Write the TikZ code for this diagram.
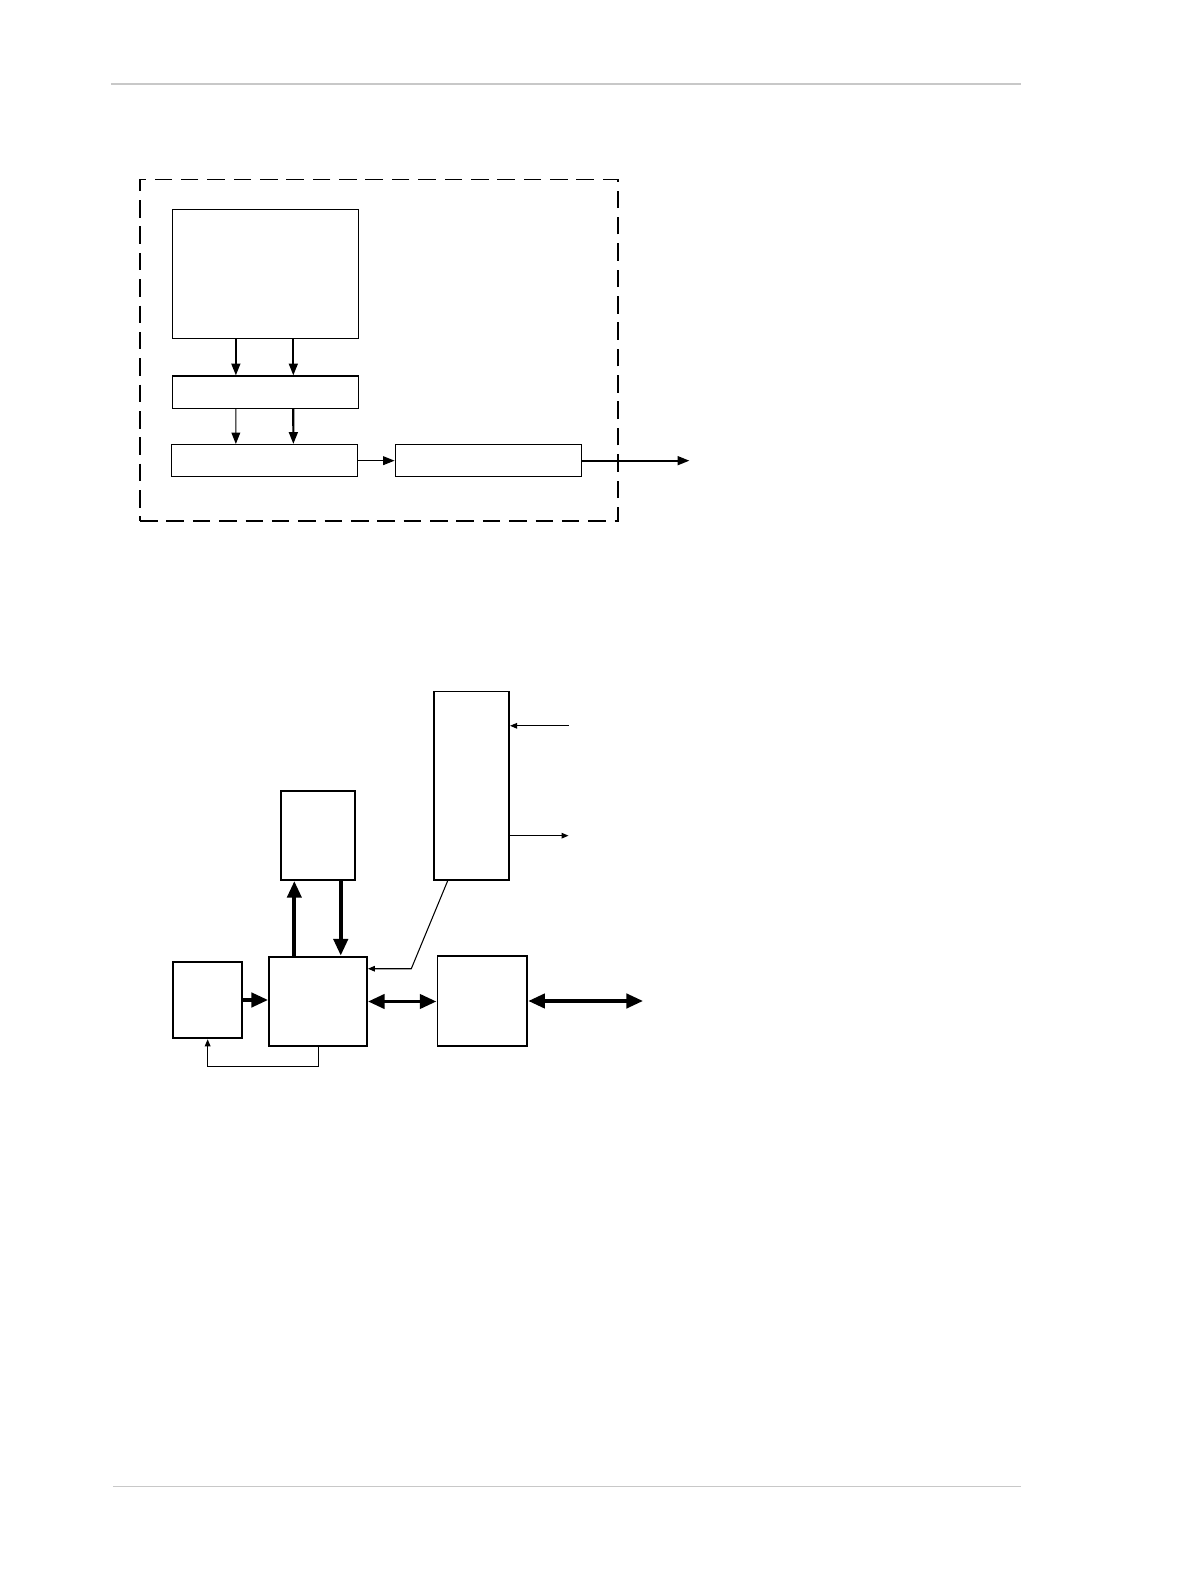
\documentclass[tikz,border=0pt]{standalone}
\usetikzlibrary{arrows.meta}
\definecolor{rule}{RGB}{200,200,200}

\begin{document}
\begin{tikzpicture}[x=0.02016cm, y=-0.02016cm,
    blk/.style={draw, line width=0.6pt, inner sep=0pt},
    blkb/.style={draw, line width=1.1pt, inner sep=0pt},
    fine/.style={line width=0.6pt, ->, >={Triangle[length=6.5pt, width=5pt]}},
    bold/.style={line width=1.25pt, ->, >={Triangle[length=6.8pt, width=5pt]}},
    small/.style={line width=0.6pt, ->, >={Triangle[length=4pt, width=3.2pt]}},
    heavy/.style={line width=2.2pt, >={Triangle[length=9.5pt, width=8pt]}}]
  \useasboundingbox (0,0) rectangle (1180.5,1567.4);

  % Page rules
  \draw[rule, line width=1.3pt] (110,83) -- (1013,83);
  \draw[rule, line width=0.7pt] (112,1475) -- (1013,1475);

  % Upper diagram
  \node[draw, line width=0.8pt, dash pattern=on 10pt off 5pt, minimum width=9.556cm, minimum height=6.834cm] (frame) at (376,347.5) {};
  \node[blk, minimum width=3.73cm, minimum height=2.58cm] (src) at (263.5,272) {};
  \node[blk, minimum width=3.73cm, minimum height=0.645cm] (buf) at (263.5,389) {};
  \node[blk, minimum width=3.73cm, minimum height=0.645cm] (enc) at (262.5,457) {};
  \node[blk, minimum width=3.73cm, minimum height=0.645cm] (drv) at (484.5,457) {};
  \coordinate (out) at (684,457);

  \draw[bold] ([xshift=-0.595cm]src.south) -- ([xshift=-0.595cm]buf.north);
  \draw[bold] ([xshift=0.554cm]src.south) -- ([xshift=0.554cm]buf.north);
  \draw[fine] ([xshift=-0.595cm]buf.south) -- ([xshift=-0.575cm]enc.north);
  \draw[bold] ([xshift=0.554cm]buf.south) -- ([xshift=0.575cm]enc.north);
  \draw[fine] (enc) -- (drv);
  \draw[bold] (drv.east) -- (out);

  % Lower diagram
  \node[blkb, minimum width=1.492cm, minimum height=3.77cm] (mux) at (468,779.5) {};
  \node[blkb, minimum width=1.472cm, minimum height=1.774cm] (mem) at (315.5,829) {};
  \node[blkb, minimum width=1.371cm, minimum height=1.532cm] (clk) at (206,992) {};
  \node[blkb, minimum width=1.956cm, minimum height=1.794cm] (cpu) at (315.5,993.5) {};
  \node[blkb, minimum width=1.794cm, minimum height=1.814cm] (phy) at (478.5,993) {};
  \coordinate (in1) at (564,720);
  \coordinate (out1) at (564,829);
  \coordinate (bus) at (638,993);
  \coordinate (kink) at (408,961);
  \coordinate (loop) at (315.5,1058);

  \draw[small] (in1) -- (in1 -| mux.east);
  \draw[small] (mux.east |- out1) -- (out1);
  \draw[small] ([xshift=0.282cm]mux.south west) -- (kink) -- (kink -| cpu.east);
  \draw[heavy, ->] ([xshift=-0.474cm]cpu.north) -- ([xshift=-0.474cm]mem.south);
  \draw[heavy, ->] ([xshift=0.454cm]mem.south) -- ([xshift=0.454cm]cpu.north);
  \draw[heavy, ->] (clk.east) -- (clk.east -| cpu.west);
  \draw[heavy, <->] (cpu.east) -- (cpu.east -| phy.west);
  \draw[heavy, <->] (phy.east) -- (bus);
  \draw[small] (cpu.south) -- (loop) -| (clk.south);
\end{tikzpicture}
\end{document}
